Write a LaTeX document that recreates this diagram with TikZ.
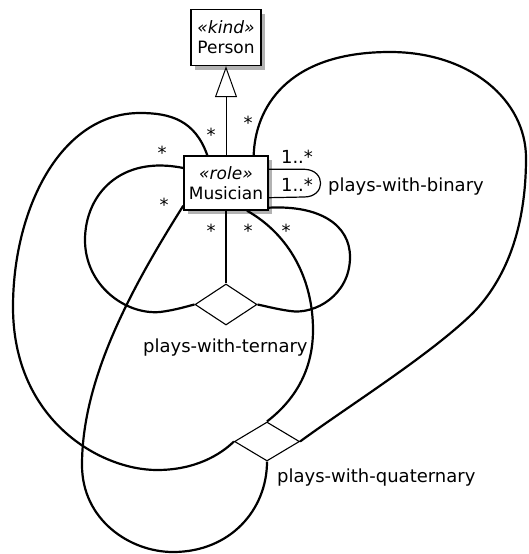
\documentclass[tikz,border=0pt]{standalone}
\usepackage{fontspec}
\setmainfont{DejaVu Sans}
\usetikzlibrary{arrows.meta,shapes.geometric,shadows}
\begin{document}
\begin{tikzpicture}[x=1pt,y=-1pt,
  cls/.style={draw,line width=1.4pt,fill=white,rectangle,align=center,inner sep=0pt,
    font=\fontsize{17}{20}\selectfont,
    drop shadow={shadow xshift=4pt,shadow yshift=-4pt,fill=black!55,opacity=.55}},
  rel/.style={draw,diamond,fill=white,line width=1.1pt,inner sep=0pt},
  assoc/.style={line width=2.2pt},
  lbl/.style={font=\fontsize{18}{20}\selectfont,inner sep=0pt,anchor=base west},
  mult/.style={font=\fontsize{18}{20}\selectfont,inner sep=0pt},
]
\useasboundingbox (0,0) rectangle (528,554);

% classes
\node[cls,minimum width=70pt,minimum height=56pt] (person) at (226,37.5)
  {\textit{«kind»}\\Person};
\node[cls,minimum width=84pt,minimum height=54pt] (musician) at (226,183)
  {\textit{«role»}\\Musician};

% relation diamonds
\node[rel,minimum width=62pt,minimum height=41pt] (tern) at (226,304.5) {};
\node[rel,minimum width=65pt,minimum height=39pt] (quat) at (267,441.5) {};

% generalization
\draw[line width=1pt,-{Triangle[open,length=31pt,width=22pt,line width=1pt]}]
  (musician.north) -- (person.south);

% binary self association
\coordinate (b1) at ([yshift=-14pt]musician.north east);
\coordinate (b2) at ([yshift=13pt]musician.south east);
\draw[line width=1.2pt] (b1) -- ++(36,0) .. controls (326,170) and (326,197) .. (304,197) -- (b2);

% ternary association
\draw[assoc] (musician.south) -- (tern.north);
\coordinate (tl) at ([yshift=15pt]musician.west);
\draw[assoc] (tl) .. controls (120,155) and (85,195) .. (85,240)
  .. controls (85,285) and (125,315) .. (160,312)
  .. controls (176,310) and (188,306) .. (tern.west);
\coordinate (tr) at ([yshift=3pt]musician.south east);
\draw[assoc] (tr) .. controls (320,205) and (350,225) .. (350,257)
  .. controls (350,295) and (315,315) .. (290,311)
  .. controls (276,309) and (265,306) .. (tern.east);

% quaternary association
\coordinate (q1) at ([xshift=24pt]musician.north west);
\draw[assoc] (q1) .. controls (195,120) and (170,113) .. (140,113)
  .. controls (60,113) and (13,210) .. (13,307)
  .. controls (13,420) and (100,470) .. (157,470)
  .. controls (195,470) and (220,455) .. (quat.west);
\coordinate (q2) at ([xshift=-15pt]musician.north east);
\draw[assoc] (q2) .. controls (255,110) and (285,52) .. (390,52)
  .. controls (470,52) and (526,100) .. (526,158)
  .. controls (526,230) and (505,280) .. (473,313)
  .. controls (430,355) and (350,405) .. (quat.east);
\coordinate (q3) at ([yshift=5pt]musician.south west);
\draw[assoc] (q3) .. controls (130,290) and (82,380) .. (82,465)
  .. controls (82,520) and (130,552) .. (173,552)
  .. controls (230,552) and (267,510) .. (quat.south);
\coordinate (q4) at ([xshift=21pt]musician.south);
\draw[assoc] (q4) .. controls (290,235) and (313,280) .. (313,330)
  .. controls (313,370) and (295,400) .. (quat.north);

% multiplicities
\node[mult] (m1) at (211,135) {*};
\node[mult] (m2) at (248,123) {*};
\node[mult] (m3) at (162,153) {*};
\node[mult] (m4) at (164,205) {*};
\node[mult] (m5) at (211,231) {*};
\node[mult] (m6) at (248,231) {*};
\node[mult] (m7) at (286,231) {*};
\node[mult] (m8) at (297,157) {1..*};
\node[mult] (m9) at (297,185) {1..*};

% labels
\node[lbl] (lb) at (328,191.5) {plays-with-binary};
\node[lbl] (lt) at (143,352) {plays-with-ternary};
\node[lbl] (lq) at (277,482) {plays-with-quaternary};
\end{tikzpicture}
\end{document}
